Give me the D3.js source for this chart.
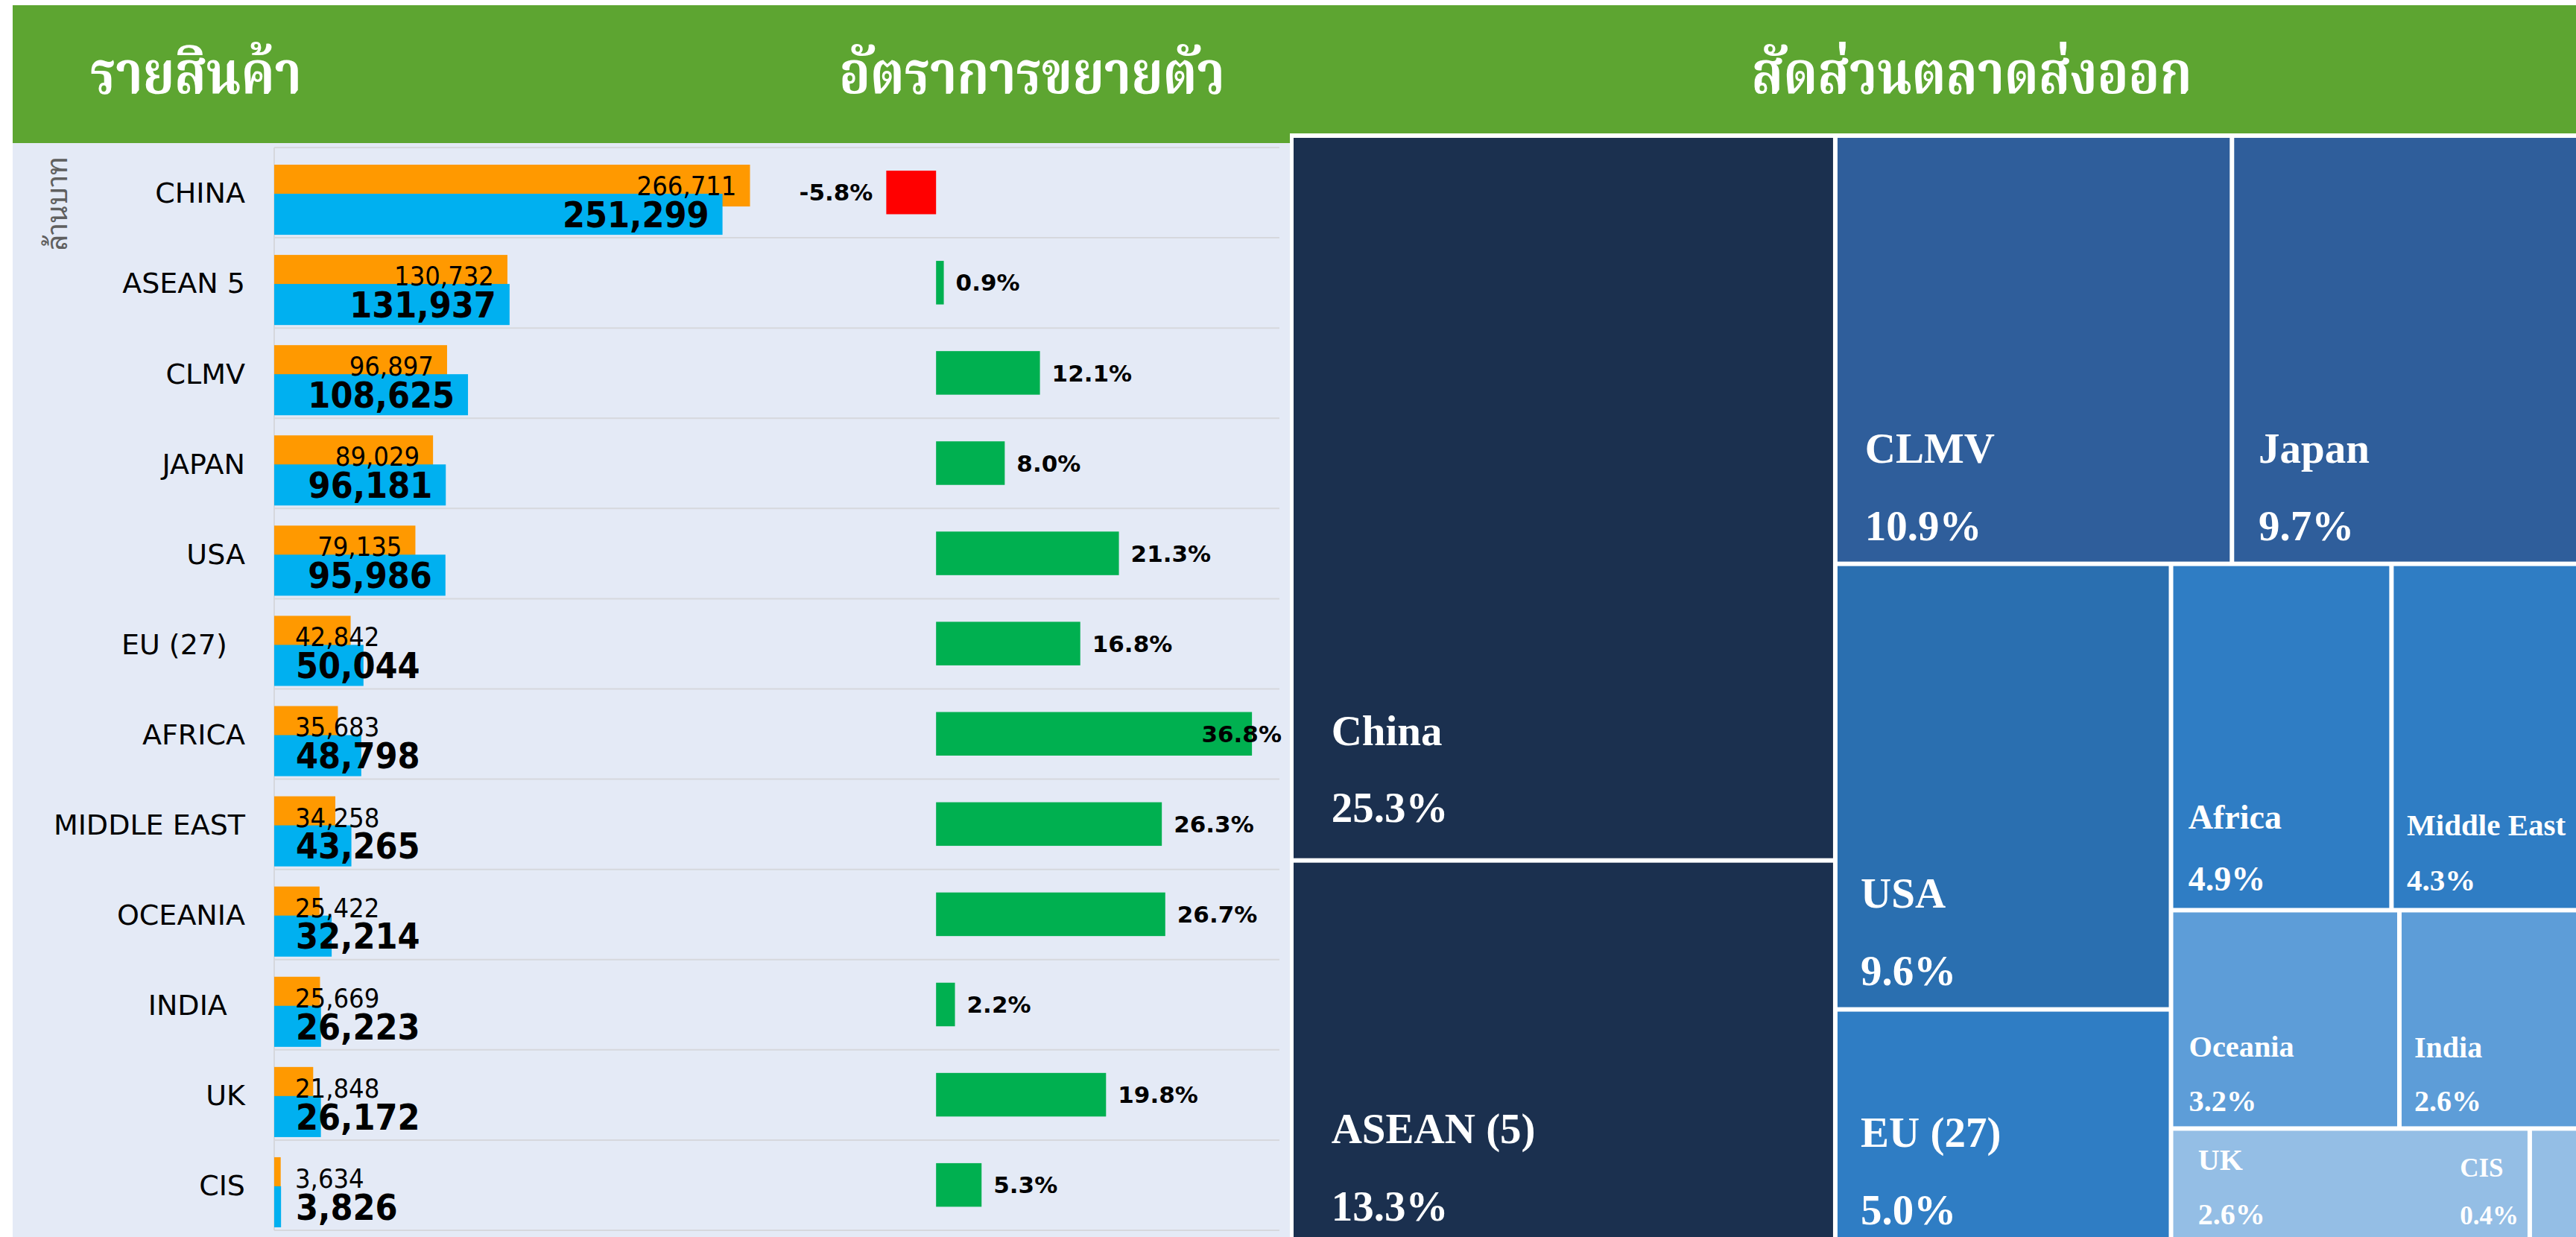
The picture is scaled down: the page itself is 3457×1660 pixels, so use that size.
<!DOCTYPE html>
<html><head><meta charset="utf-8">
<script src="https://cdn.jsdelivr.net/npm/d3@7"></script>
<style>
html,body{margin:0;padding:0;background:#fff;}
svg{display:block;}
text{white-space:pre;}
</style></head><body>
<svg id="c" width="3457" height="1660"></svg>
<script>
// ---------- DATA ----------
const categories = ["CHINA","ASEAN 5","CLMV","JAPAN","USA","EU (27)  ","AFRICA","MIDDLE EAST","OCEANIA","INDIA  ","UK","CIS"];
const prevYear   = [266711,130732,96897,89029,79135,42842,35683,34258,25422,25669,21848,3634];
const currYear   = [251299,131937,108625,96181,95986,50044,48798,43265,32214,26223,26172,3826];
const growth     = [-5.8,0.9,12.1,8.0,21.3,16.8,36.8,26.3,26.7,2.2,19.8,5.3];
const shareNames  = ["China","ASEAN (5)","CLMV","Japan","USA","EU (27)","Africa","Middle East","Oceania","India","UK","CIS"];
const shareValues = [25.3,13.3,10.9,9.7,9.6,5.0,4.9,4.3,3.2,2.6,2.6,0.4];
const headerLabels = ["รายสินค้า","อัตราการขยายตัว","สัดส่วนตลาดส่งออก"];
const yAxisTitle = "ล้านบาท";
// treemap grouping (indices into shareNames)
const shareGroups = [[0,1],[[2,3],[[4,5],[[6,7],[8,9],[10,11]]]]];
const sharePalette = ["#1b304f","#1b304f","#2f5e9b","#2f5e9b","#2a6fb0","#2f7dc4","#2f7dc4","#2f7dc4","#5d9dd8","#5d9dd8","#94bee5","#94bee5"];

// ---------- FONTS ----------
const THAI_H = "'Noto Serif Thai','Noto Sans Thai Looped','Noto Sans Thai','Loma','Garuda','Tahoma',sans-serif";
const THAI = "'Noto Sans Thai Looped','Noto Sans Thai','Loma','Garuda','Tahoma',sans-serif";
const SANS = "'DejaVu Sans','Verdana',sans-serif";
const COND = "'DejaVu Sans Condensed','DejaVu Sans',sans-serif";
const SERIF = "'Liberation Serif','Times New Roman',serif";
const cv = document.createElement("canvas").getContext("2d");
cv.font = "40px 'DejaVu Sans Condensed', monospace"; const wA = cv.measureText("266,711").width;
cv.font = "40px monospace"; const wB = cv.measureText("266,711").width;
const hasCond = Math.abs(wA - wB) > 0.5;

const W = 3457, H = 1660;
const svg = d3.select("#c");

// ---------- BACKGROUND PANELS ----------
const green = "#5da531";
svg.append("rect").attr("x",17).attr("y",192).attr("width",1714).attr("height",1468).attr("fill","#e4eaf6");
svg.append("rect").attr("x",17).attr("y",7).attr("width",1714).attr("height",185).attr("fill",green);
svg.append("rect").attr("x",1731).attr("y",7).attr("width",1726).attr("height",172).attr("fill",green);

// headers
const hdr = [{t:headerLabels[0],x:121,a:"start"},{t:headerLabels[1],x:1385,a:"middle"},{t:headerLabels[2],x:2646,a:"middle"}];
svg.selectAll("text.hdr").data(hdr).join("text").attr("class","hdr")
  .attr("transform",d=>`translate(${d.x},125) scale(0.86,1)`).attr("text-anchor",d=>d.a)
  .attr("fill","#fff").attr("font-family",THAI_H).attr("font-weight","bold").attr("font-size",80)
  .text(d=>d.t);

// ---------- BAR CHART ----------
const y = d3.scaleBand().domain(categories).range([198,1651]).paddingInner(0).paddingOuter(0);
const bw = y.bandwidth();
const x = d3.scaleLinear().domain([0,563500]).range([368,1717]);
const xg = d3.scaleLinear().domain([-10,40]).range([1141,1717]);
const rows = categories.map((c,i)=>({c, prev:prevYear[i], curr:currYear[i], g:growth[i]}));

// gridlines
const gl = d3.range(categories.length+1).map(i=>y.range()[0]+i*y.step());
svg.selectAll("line.grid").data(gl).join("line").attr("class","grid")
  .attr("x1",x(0)).attr("x2",x.range()[1]).attr("y1",d=>d).attr("y2",d=>d)
  .attr("stroke","#d6d8dd").attr("stroke-width",2);
svg.append("line").attr("x1",x(0)).attr("x2",x(0)).attr("y1",y.range()[0]).attr("y2",y.range()[1])
  .attr("stroke","#d6d8dd").attr("stroke-width",2);

// category labels
svg.selectAll("text.cat").data(rows).join("text").attr("class","cat")
  .attr("x",329).attr("y",d=>y(d.c)+bw/2+0.364*38).attr("text-anchor","end")
  .attr("font-family",SANS).attr("font-size",38).attr("fill","#000").text(d=>d.c);

// y axis title
svg.append("text").attr("transform","translate(90,273) rotate(-90)")
  .attr("text-anchor","middle").attr("font-family",THAI).attr("font-size",38).attr("fill","#5f5f5f")
  .text(yAxisTitle);

// bars
const oy = d=>y(d.c)+bw*0.19, oh = bw*0.463;
const by = d=>y(d.c)+bw*0.512, bh = bw*0.455;
svg.selectAll("rect.prev").data(rows).join("rect").attr("class","prev")
  .attr("x",x(0)).attr("y",oy).attr("width",d=>x(d.prev)-x(0)).attr("height",oh).attr("fill","#ff9900");
svg.selectAll("rect.curr").data(rows).join("rect").attr("class","curr")
  .attr("x",x(0)).attr("y",by).attr("width",d=>x(d.curr)-x(0)).attr("height",bh).attr("fill","#00b0f0");

const fmt = d3.format(",");
function valueLabels(cls, key, fs, weight, ycenter, minX){
  const t = svg.selectAll("text."+cls).data(rows).join("text").attr("class",cls)
    .attr("font-family",COND).attr("font-stretch","condensed").attr("font-size",fs).attr("font-weight",weight)
    .attr("fill","#000").attr("y",d=>ycenter(d)+0.36*fs).text(d=>fmt(d[key]));
  t.each(function(d){
    let w = this.getComputedTextLength();
    if(!hasCond){ w = w*0.89; d3.select(this).attr("textLength",w).attr("lengthAdjust","spacingAndGlyphs"); }
    const xs = Math.max(x(d[key]) - 18 - w, minX);
    d3.select(this).attr("x",xs);
  });
}
valueLabels("lp","prev",36,"normal",d=>oy(d)+oh/2,396);
valueLabels("lc","curr",48,"bold",d=>by(d)+bh/2,397);

// growth bars
const gy = d=>y(d.c)+bw*0.256, gh = bw*0.483;
svg.selectAll("rect.gr").data(rows).join("rect").attr("class","gr")
  .attr("x",d=>xg(Math.min(0,d.g))).attr("y",gy).attr("width",d=>Math.abs(xg(d.g)-xg(0))).attr("height",gh)
  .attr("fill",d=>d.g<0?"#ff0000":"#00b050");
const gfs = 31;
const pct = v => d3.format(".1f")(v).replace("\u2212","-")+"%";
const gt = svg.selectAll("text.gl").data(rows).join("text").attr("class","gl")
  .attr("font-family",SANS).attr("font-weight","bold").attr("font-size",gfs).attr("fill","#000")
  .attr("y",d=>gy(d)+gh/2+0.36*gfs).text(d=>pct(d.g));
gt.each(function(d){
  const w = this.getComputedTextLength();
  let xs;
  if(d.g<0){ xs = xg(d.g)-18-w; }
  else { xs = Math.min(xg(d.g)+16, 1720-w); }
  d3.select(this).attr("x",xs);
});

// ---------- TREEMAP ----------
function build(node){
  if(typeof node === "number") return {name:shareNames[node], value:shareValues[node]};
  return {children: node.map(build)};
}
const ox = 1736, oyT = 185;
const root = d3.hierarchy(build(shareGroups)).sum(d=>d.value||0);
d3.treemap().tile(d3.treemapSliceDice).size([1730,1478]).paddingInner(6).round(false)(root);
const color = d3.scaleOrdinal().domain(shareNames).range(sharePalette);
const fsScale = d3.scaleLinear().domain([0.4,2.6,4.3,4.9,5.0]).range([35,40,41,46,57]).clamp(true);
const tg = svg.append("g").attr("transform",`translate(${ox},${oyT})`);
const leaves = root.leaves();
tg.selectAll("rect").data(leaves).join("rect")
  .attr("x",d=>d.x0).attr("y",d=>d.y0).attr("width",d=>d.x1-d.x0).attr("height",d=>d.y1-d.y0)
  .attr("fill",d=>color(d.data.name));
const lab = tg.selectAll("g.lab").data(leaves).join("g").attr("class","lab");
lab.each(function(d){
  const g = d3.select(this);
  const w = d.x1-d.x0, h = d.y1-d.y0;
  const fs = fsScale(d.data.value);
  const pb = d.y1 - Math.max(20, 0.05*h);
  const t1 = g.append("text").attr("y",pb-1.82*fs).attr("font-family",SERIF).attr("font-weight","bold")
    .attr("font-size",fs).attr("fill","#fff").text(d.data.name);
  const t2 = g.append("text").attr("y",pb).attr("font-family",SERIF).attr("font-weight","bold")
    .attr("font-size",fs).attr("fill","#fff").text(pct(d.data.value));
  const tw = Math.max(t1.node().getComputedTextLength(), t2.node().getComputedTextLength());
  let lx = d.x0 + Math.max(16, Math.min(60, 0.07*w));
  const visRight = Math.min(d.x1, W - ox);
  // if the visible part of the cell is too narrow, set the label just left of it
  if (visRight - d.x0 < tw + 20) lx = d.x0 - tw - 18;
  else lx = Math.min(lx, visRight - tw - 10);
  t1.attr("x",lx); t2.attr("x",lx);
});
</script>
</body></html>
